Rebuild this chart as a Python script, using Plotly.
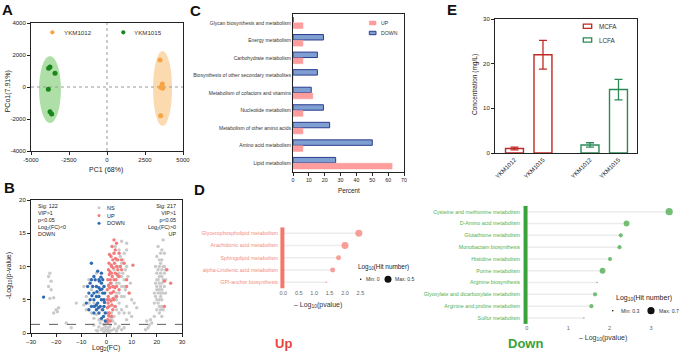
import plotly.graph_objects as go

W, H = 685, 356
FONT = "Liberation Sans"

# ---------------- Panel A: PCoA ----------------
pca_groups = ["YKM1012", "YKM1015"]
pc1_ykm1012 = [3490, 3640, 3530, 3660, 3530]
pc2_ykm1012 = [1690, 190, -20, -80, -1790]
pc1_ykm1015 = [-3750, -3840, -3420, -3860, -3750, -3640]
pc2_ykm1015 = [1250, 1170, 860, -140, -1540, -1690]
# confidence ellipse bounds [xmin, xmax, ymin, ymax]
ellipse_ykm1012 = [3030, 4280, -2440, 2250]
ellipse_ykm1015 = [-4470, -3030, -2250, 1940]
pca_xticks = [-5000, -2500, 0, 2500, 5000]
pca_xticklabels = ["-5000", "-2500", "0", "2500", "5000"]
pca_yticks = [-4000, -2000, 0, 2000, 4000]
pca_yticklabels = ["-4000", "-2000", "0", "2000", "4000"]

# ---------------- Panel B: volcano ----------------
ns_points = [
    (-1, 0.2), (0, 0.3), (1, 0.1), (-2, 0.5), (2, 0.4), (0.5, 0.8), (-0.5, 1.0), (1.5, 1.2), (-1.5, 0.7), (3, 0.6),
    (-3, 0.9), (4, 0.3), (-4, 0.4), (2.5, 1.8), (-2.5, 1.5), (0, 1.6), (5, 1.0), (6, 0.5), (-5, 1.2), (7, 0.8),
    (-0.3, 0.5), (0.8, 0.4), (1.2, 0.9), (-1.2, 1.3), (3.5, 1.4), (-3.5, 0.3), (4.5, 0.7), (2, 2.2), (-2, 2.0), (1, 1.9),
    (-6, 3), (-7, 4.5), (-8, 5.5), (-5, 2.2), (-4, 2.8), (-3, 2), (-2, 3.5), (-1, 4), (1, 2.5), (2, 3),
    (3, 4), (4, 5), (5, 6), (6, 7), (7, 8), (5, 9), (6, 10.5), (7, 12), (8, 13.5), (4, 11),
    (3, 9.5), (2, 7.5), (3.5, 13), (8, 10), (9, 6), (10, 5), (7, 5.5), (6, 3.5), (5, 3), (8, 4),
    (4, 7.5), (4.5, 8.5), (5.5, 11.5), (6.5, 9), (7.5, 6.5), (8.5, 8.5), (9, 3), (11, 4.5), (12, 3.8), (-9, 7),
    (-7, 8), (-6, 6.5), (-8, 3.5), (-3, 6), (-2, 5), (-1, 7), (-4, 9), (-5, 4.5), (3, 2.5), (4, 3.5),
    (5, 4.5), (6, 5.5), (7, 7), (6, 8.5), (5, 7.5), (4, 6), (3, 7), (2, 5), (3.5, 5.5), (4.5, 10),
    (5, 12.5), (6.5, 11), (7.5, 9.5), (8, 12.5), (6, 13.8), (9.5, 7.5), (7, 3), (8, 2), (10, 2.5), (-9, 4.2),
    (18, 1.5), (17, 1.2), (16.5, 0.8), (15.5, 0.5), (16, 1.8), (17.5, 2.0), (19, 2.5), (20, 3.5), (21, 4), (22, 5),
    (20.5, 6), (21.5, 7), (22.5, 8), (20, 9), (21, 10), (22, 11), (21.5, 12), (22.5, 14), (20.5, 13), (23, 10),
    (19.5, 7.5), (21, 8.5), (22, 6.5), (23, 9), (20, 5), (21.5, 5.5), (22.5, 3.5), (23.5, 6), (19, 4.5), (21, 3),
    (20, 11.5), (22, 9.5), (23, 12), (19.5, 10), (21, 6.5), (20.5, 8), (22, 7.5), (21.5, 9), (23.5, 8), (20, 7),
    (21, 5), (22, 4), (20.5, 4.5), (21.5, 10.5), (22.5, 10), (20, 6.5), (21, 7.5), (22, 8.5), (19.5, 5.5), (23, 7),
    (21.5, 3.5), (20.5, 9.5), (22.5, 6), (21, 11), (22, 12.5), (19, 6), (23.5, 9.5), (20, 8), (21.5, 6), (22, 2.5),
    (-22.5, 9), (-23, 8.5), (-22, 7.8), (-23, 7), (-22, 6.5), (-21, 5.3), (-22.5, 5.2), (-20, 3.5), (-19.5, 3.2), (-21, 3),
    (-19, 3.8), (-16, 1.5), (-14, 0.8), (-12, 4.5),
]
up_points = [
    (0.5, 2), (0.5, 3), (1, 4), (1, 5), (1.5, 6), (1, 7), (1.5, 8), (2, 9), (2, 10), (2.5, 11),
    (3, 12), (3.5, 12.5), (4, 13.5), (3, 14), (0.3, 6.5), (0.5, 8), (0.8, 9.5), (1.2, 3), (2, 2.5), (2.5, 3.5),
    (3, 5), (2, 6), (2.5, 7), (3, 8), (3.5, 9), (4, 10), (4.5, 11), (5, 12), (4, 7), (5, 8.5),
    (6, 9.5), (6, 11), (5, 6.5), (4, 5.5), (3.5, 4), (1.5, 1.8), (0.4, 1.6), (7, 10.5), (8, 8), (8, 7),
    (10.5, 10.2), (9, 6), (1, 10.5), (1.8, 11.5), (2.2, 13), (0.7, 5.5), (1.3, 6.8), (1.8, 4.8), (2.8, 6.2), (3.2, 10.5),
    (0.9, 2.6), (2.3, 8.5), (3.8, 8), (4.5, 9.5), (5.5, 10), (0.6, 4.5), (1.6, 7.5), (2.6, 5.2), (1.1, 8.8), (2.1, 4.2),
    (0.4, 3.8), (1.4, 9.2), (3.3, 6.8), (0.8, 7.2), (1.9, 10.2), (2.7, 9.8), (1.2, 11.8), (3.6, 11.2), (4.2, 8.8), (0.3, 5),
    (23, 7.8), (25.5, 7.5), (23, 4), (24, 9.5),
]
down_points = [
    (-0.5, 1.8), (-0.5, 3), (-1, 4), (-1, 5), (-1.5, 6), (-1, 7), (-1.5, 8), (-2, 9), (-2, 7.5), (-2.5, 6.5),
    (-3, 5.5), (-3.5, 4.5), (-4, 3.5), (-5, 3), (-6, 4), (-6.5, 5), (-7, 6), (-7.5, 7), (-6, 8), (-5, 8.5),
    (-4, 7), (-3, 8), (-2, 5), (-2.5, 4), (-3, 3), (-4, 5.5), (-5, 6), (-5.5, 7), (-4.5, 8), (-3.5, 9.3),
    (-6, 10.5), (-8, 4.5), (-7, 3.5), (-1.2, 2.5), (-0.7, 6), (-2, 2.2), (-3, 6.8), (-4, 4.2), (-5, 5), (-25, 5.4),
    (-1.5, 3.5), (-6.5, 7.5), (-2.8, 7.8), (-0.8, 4.6), (-1.8, 6.6), (-3.8, 6.2), (-4.8, 4), (-5.8, 5.6), (-2.2, 8.4), (-3.2, 3.8),
]
volcano_threshold = 1.3
sig_down_text = "Sig: 122<br>VIP&gt;1<br>p&lt;0.05<br>Log<sub>2</sub>(FC)&lt;0<br>DOWN"
sig_up_text = "Sig: 217<br>VIP&gt;1<br>p&lt;0.05<br>Log<sub>2</sub>(FC)&gt;0<br>UP"

# ---------------- Panel C: KEGG class percent ----------------
c_categories = [
    "Glycan biosynthesis and metabolism", "Energy metabolism", "Carbohydrate metabolism",
    "Biosynthesis of other secondary metabolites", "Metabolism of cofactors and vitamins",
    "Nucleotide metabolism", "Metabolism of other amino acids", "Amino acid metabolism", "Lipid metabolism",
]
c_up = [6.25, 6.25, 6.25, 0, 12.5, 6.25, 6.25, 6.25, 62.5]
c_down = [0, 19.2, 15.4, 15.4, 11.5, 19.2, 23.1, 50.0, 26.9]

# ---------------- Panel D: enrichment ----------------
up_paths = ["Glycerophospholipid metabolism", "Arachidonic acid metabolism", "Sphingolipid metabolism",
            "alpha-Linolenic acid metabolism", "GPI-anchor biosynthesis"]
up_logp = [2.45, 2.0, 1.79, 1.6, 1.4]
up_loghit = [0.48, 0.48, 0.3, 0.3, 0.0]
down_paths = ["Cysteine and methionine metabolism", "D-Amino acid metabolism", "Glutathione metabolism",
              "Monobactam biosynthesis", "Histidine metabolism", "Purine metabolism", "Arginine biosynthesis",
              "Glyoxylate and dicarboxylate metabolism", "Arginine and proline metabolism", "Sulfur metabolism"]
down_logp = [3.44, 2.41, 2.27, 2.24, 2.01, 1.83, 1.70, 1.65, 1.56, 1.38]
down_loghit = [0.7, 0.6, 0.48, 0.48, 0.48, 0.6, 0.3, 0.48, 0.48, 0.3]

# ---------------- Panel E: fatty acids ----------------
e_samples = ["YKM1012", "YKM1015"]
mcfa_mean = [1.0, 22.0]
mcfa_err = [0.3, 3.2]
lcfa_mean = [1.8, 14.2]
lcfa_err = [0.5, 2.3]

# ---------------- helpers ----------------
def px(x): return x / W
def py(y): return 1 - y / H
def dx(l, r): return [l / W, r / W]
def dy(t, b): return [1 - b / H, 1 - t / H]

shapes, ann = [], []

def text(x, y, s, size=6, color="#222", xanchor="center", yanchor="middle", angle=0, align="center"):
    ann.append(dict(x=px(x), y=py(y), xref="paper", yref="paper", text=s, showarrow=False,
                    font=dict(family=FONT, size=size, color=color), xanchor=xanchor, yanchor=yanchor,
                    textangle=angle, align=align, borderpad=0))

def dot(x, y, d, color):
    shapes.append(dict(type="circle", xref="paper", yref="paper", x0=px(x - d / 2), x1=px(x + d / 2),
                       y0=py(y + d / 2), y1=py(y - d / 2), fillcolor=color, line=dict(width=0)))

def rect(x0, y0, x1, y1, fill, line_color, lw):
    shapes.append(dict(type="rect", xref="paper", yref="paper", x0=px(x0), x1=px(x1), y0=py(y1), y1=py(y0),
                       fillcolor=fill, line=dict(color=line_color, width=lw)))

ORANGE, GREEN = "#F6A545", "#18861A"
NS_C, UP_C, DOWN_C = "#cacaca", "#F47B7B", "#2F6BB3"
C_UP, C_DOWN, C_DOWN_L = "#FF9C9C", "#7F9FD3", "#2B3C8E"
E_RED, E_GREEN = "#BF2A26", "#2A8A55"
D_UP, D_UP_L = "#F5766B", "#F28C82"
D_DN, D_DN_L = "#3AA23A", "#52B152"

fig = go.Figure()

# A
fig.add_trace(go.Scatter(x=pc1_ykm1012, y=pc2_ykm1012, mode="markers", marker=dict(color=ORANGE, size=5),
                         xaxis="x", yaxis="y"))
fig.add_trace(go.Scatter(x=pc1_ykm1015, y=pc2_ykm1015, mode="markers", marker=dict(color=GREEN, size=5),
                         xaxis="x", yaxis="y"))
for e, col in ((ellipse_ykm1012, "rgba(250,205,150,0.75)"), (ellipse_ykm1015, "rgba(140,210,130,0.7)")):
    shapes.append(dict(type="circle", xref="x", yref="y", x0=e[0], x1=e[1], y0=e[2], y1=e[3],
                       fillcolor=col, line=dict(width=0), layer="below"))
shapes.append(dict(type="line", xref="x", yref="y", x0=0, x1=0, y0=-4000, y1=4000,
                   line=dict(color="#999", width=1, dash="dot"), layer="below"))
shapes.append(dict(type="line", xref="x", yref="y", x0=-5000, x1=5000, y0=0, y1=0,
                   line=dict(color="#999", width=1, dash="dot"), layer="below"))
dot(52.3, 32.3, 4.3, ORANGE); text(63, 32.3, pca_groups[0], 6.2, "#333", "left")
dot(123.3, 32.3, 4.3, GREEN); text(133, 32.3, pca_groups[1], 6.2, "#333", "left")

# B
for pts, col in ((ns_points, NS_C), (up_points, UP_C), (down_points, DOWN_C)):
    fig.add_trace(go.Scatter(x=[p[0] for p in pts], y=[p[1] for p in pts], mode="markers",
                             marker=dict(color=col, size=3.4), xaxis="x2", yaxis="y2"))
shapes.append(dict(type="line", xref="x2", yref="y2", x0=-30, x1=30, y0=volcano_threshold, y1=volcano_threshold,
                   line=dict(color="#333", width=0.8, dash="dash")))
text(37, 201.5, sig_down_text, 5.4, "#222", "left", "top", align="left")
text(177, 201.5, sig_up_text, 5.4, "#222", "right", "top", align="right")
for yy, lab, col in ((207.7, "NS", NS_C), (215.5, "UP", UP_C), (223.3, "DOWN", DOWN_C)):
    dot(99, yy, 3, col); text(106, yy, lab, 5.6, "#222", "left")

# C
fig.add_trace(go.Bar(y=c_categories, x=c_down, orientation="h", xaxis="x3", yaxis="y3", width=0.31, offset=-0.33,
                     marker=dict(color=C_DOWN, line=dict(color=C_DOWN_L, width=1))))
fig.add_trace(go.Bar(y=c_categories, x=c_up, orientation="h", xaxis="x3", yaxis="y3", width=0.33, offset=0.0,
                     marker=dict(color=C_UP, line=dict(color=C_UP, width=0.5))))
rect(369.3, 21, 376, 25, C_UP, C_UP, 0.5); text(380.5, 22.8, "UP", 5.2, "#333", "left")
rect(369.3, 31.3, 376, 34.7, C_DOWN, C_DOWN_L, 1); text(380.5, 33, "DOWN", 5.2, "#333", "left")

# E
e_pos_m = [0, 1]
e_pos_l = [2.65, 3.65]
fig.add_trace(go.Bar(x=e_pos_m, y=mcfa_mean, xaxis="x4", yaxis="y4", width=0.63, offset=-0.315,
                     marker=dict(color="white", line=dict(color=E_RED, width=1.4)),
                     error_y=dict(type="data", array=mcfa_err, color=E_RED, thickness=1.3, width=4)))
fig.add_trace(go.Bar(x=e_pos_l, y=lcfa_mean, xaxis="x4", yaxis="y4", width=0.63, offset=-0.315,
                     marker=dict(color="white", line=dict(color=E_GREEN, width=1.4)),
                     error_y=dict(type="data", array=lcfa_err, color=E_GREEN, thickness=1.3, width=4)))
rect(583.3, 24.2, 591.7, 28.4, "white", E_RED, 1.3); text(598, 26.3, "MCFA", 6.3, "#333", "left")
rect(583.3, 37.9, 591.7, 42.1, "white", E_GREEN, 1.3); text(598, 40, "LCFA", 6.3, "#333", "left")

# D
def size_map(vals, vmin, vmax, smin=1.6, smax=7.2):
    return [smin + (v - vmin) / (vmax - vmin) * (smax - smin) for v in vals]

def lollipop(vals, xa, ya):
    xs, ys = [], []
    for i, v in enumerate(vals):
        xs += [0, v, None]; ys += [i, i, None]
    fig.add_trace(go.Scatter(x=xs, y=ys, mode="lines", line=dict(color="#ececec", width=1.5), xaxis=xa, yaxis=ya))

lollipop(up_logp, "x5", "y5")
fig.add_trace(go.Scatter(x=up_logp, y=list(range(len(up_paths))), mode="markers", xaxis="x5", yaxis="y5",
                         marker=dict(color=D_UP, size=size_map(up_loghit, 0, 0.5), line=dict(width=0))))
lollipop(down_logp, "x6", "y6")
fig.add_trace(go.Scatter(x=down_logp, y=list(range(len(down_paths))), mode="markers", xaxis="x6", yaxis="y6",
                         marker=dict(color=D_DN, size=size_map(down_loghit, 0.3, 0.7), line=dict(width=0))))
shapes.append(dict(type="line", xref="x5", yref="y5", x0=-0.03, x1=-0.03, y0=-0.5, y1=len(up_paths) - 0.5,
                   line=dict(color=D_UP, width=4)))
shapes.append(dict(type="line", xref="x6", yref="y6", x0=-0.03, x1=-0.03, y0=-0.5, y1=len(down_paths) - 0.5,
                   line=dict(color=D_DN, width=4)))
text(318, 305, "– Log<sub>10</sub>(pvalue)", 7, "#333")
text(603, 338, "– Log<sub>10</sub>(pvalue)", 7, "#333")
text(356.7, 266.7, "Log<sub>10</sub>(Hit number)", 6.4, "#222", "left")
dot(360.7, 279.3, 1.6, "#111"); text(365, 279.3, "Min: 0", 5, "#333", "left")
dot(388, 279.3, 7, "#111"); text(394, 279.3, "Max: 0.5", 5, "#333", "left")
text(615, 297.7, "Log<sub>10</sub>(Hit number)", 7, "#222", "left")
dot(612.7, 310.7, 1.6, "#111"); text(620, 310.7, "Min: 0.3", 5.2, "#333", "left")
dot(651, 310.7, 7.2, "#111"); text(658, 310.7, "Max: 0.7", 5.2, "#333", "left")
text(283, 343.5, "<b>Up</b>", 13, "#E8433A")
text(525, 343.5, "<b>Down</b>", 13, "#3AA23A")

# axis titles
text(106, 169.5, "PC1 (68%)", 7, "#222")
text(8.3, 91, "PCo1(7.91%)", 7, "#222", angle=-90)
text(106, 347.5, "Log<sub>2</sub>(FC)", 7, "#222")
text(9, 276, "-Log<sub>10</sub>(p-value)", 7, "#222", angle=-90)
text(348.7, 190.5, "Percent", 6.3, "#222")
text(475, 85, "Concentration (mg/L)", 6.5, "#222", angle=-90)

# panel letters
for (x, y, s) in ((7.5, 9.5, "A"), (9.5, 187.5, "B"), (196, 10.5, "C"), (200, 189.5, "D"), (451.5, 10, "E")):
    text(x, y, f"<b>{s}</b>", 15, "#111")

tf = lambda s=6, c="#222": dict(family=FONT, size=s, color=c)
box = dict(showgrid=False, zeroline=False, showline=True, linecolor="#222", linewidth=1, mirror=True,
           ticks="outside", ticklen=3, tickwidth=1, tickcolor="#222", tickfont=tf(), automargin=False)
plain = dict(showgrid=False, zeroline=False, showline=False, ticks="", automargin=False)

fig.update_layout(
    width=W, height=H, margin=dict(l=0, r=0, t=0, b=0), showlegend=False,
    paper_bgcolor="white", plot_bgcolor="white", barmode="overlay",
    font=dict(family=FONT),
    xaxis=dict(box, domain=dx(31, 183), range=[-5000, 5000], tickvals=pca_xticks, ticktext=pca_xticklabels, anchor="y"),
    yaxis=dict(box, domain=dy(23, 151), range=[-4000, 4000], tickvals=pca_yticks, ticktext=pca_yticklabels, anchor="x"),
    xaxis2=dict(box, domain=dx(31, 182), range=[-30, 30], dtick=10, anchor="y2"),
    yaxis2=dict(box, domain=dy(200, 333), range=[0, 20], dtick=5, anchor="x2"),
    xaxis3=dict(box, domain=dx(293, 404), range=[0, 70], dtick=10, anchor="y3", tickfont=tf(5.3)),
    yaxis3=dict(box, domain=dy(14, 172), range=[8.5, -0.5], anchor="x3", ticks="", ticklen=0,
                tickfont=tf(5.0, "#333")),
    xaxis4=dict(box, domain=dx(495, 637), range=[-0.684, 4.3], anchor="y4", ticks="",
                tickvals=e_pos_m + e_pos_l, ticktext=e_samples + e_samples, tickangle=-45, tickfont=tf(6)),
    yaxis4=dict(box, domain=dy(19, 153), range=[0, 30], tickvals=[0, 10, 20, 30], anchor="x4"),
    xaxis5=dict(plain, domain=dx(279, 366), range=[-0.14, 2.68], tickvals=[0, 0.5, 1, 1.5, 2, 2.5],
                tickformat=".1f", anchor="y5", tickfont=tf(5.5, "#666")),
    yaxis5=dict(plain, domain=dy(227.2, 288.4), range=[len(up_paths) - 0.5, -0.5], anchor="x5",
                tickvals=list(range(len(up_paths))), ticktext=up_paths, tickfont=tf(5.3, D_UP_L)),
    xaxis6=dict(plain, domain=dx(521, 675), range=[-0.14, 3.58], tickvals=[0, 1, 2, 3], anchor="y6",
                tickfont=tf(5.5, "#666")),
    yaxis6=dict(plain, domain=dy(205.8, 323.9), range=[len(down_paths) - 0.5, -0.5], anchor="x6",
                tickvals=list(range(len(down_paths))), ticktext=down_paths, tickfont=tf(5.3, D_DN_L)),
    shapes=shapes, annotations=ann,
)

fig.write_html("out.html", config={"displayModeBar": False, "staticPlot": True},
               post_script="document.body.style.margin='0';document.body.style.overflow='hidden';")
